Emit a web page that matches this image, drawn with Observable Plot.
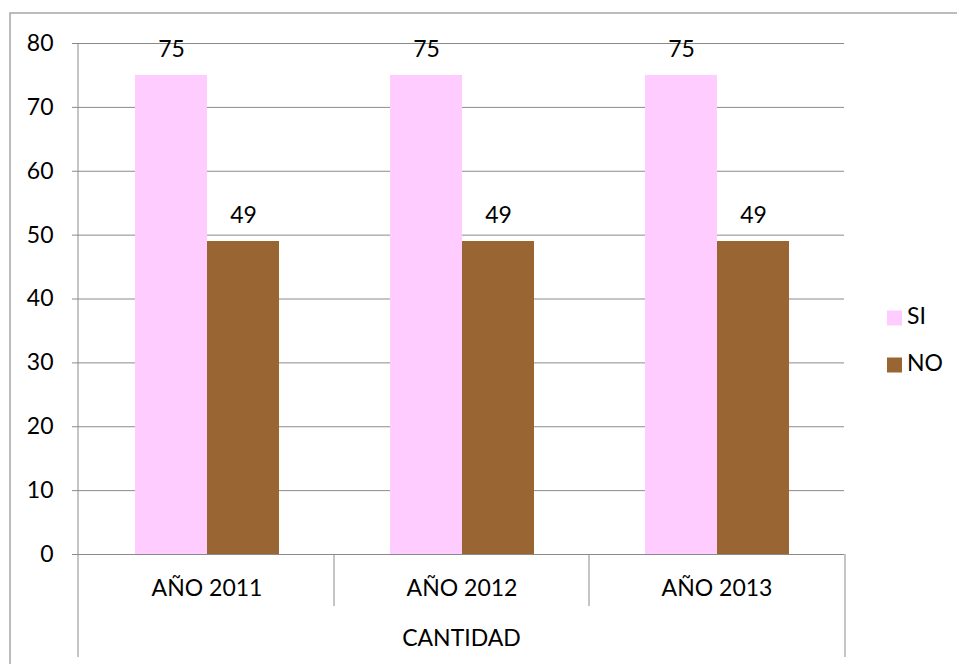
<!DOCTYPE html>
<html><head><meta charset="utf-8">
<script src="https://cdn.jsdelivr.net/npm/d3@7"></script>
<script src="https://cdn.jsdelivr.net/npm/@observablehq/plot@0.6"></script>
<style>body{margin:0;background:#fff} svg{display:block}</style>
</head><body><div id="chart"></div>
<script>
const years = ["AÑO 2011", "AÑO 2012", "AÑO 2013"];
const series = ["SI", "NO"];
const siValues = [75, 75, 75];
const noValues = [49, 49, 49];
const yTicks = [0, 10, 20, 30, 40, 50, 60, 70, 80];
const seriesColors = ["#FFCCFF", "#996633"];
const axisTitle = "CANTIDAD";

const data = years.flatMap((y, i) => [
  {year: y, serie: series[0], value: siValues[i]},
  {year: y, serie: series[1], value: noValues[i]}
]);

const font = "Lato, 'Open Sans', sans-serif";
const gridColor = "#8a8a8a";
const fs = 23;

const chart = Plot.plot({
  width: 957, height: 664,
  marginLeft: 78, marginRight: 112, marginTop: 43, marginBottom: 110,
  style: {fontFamily: font, fontSize: fs + "px", color: "#000", background: "#fff", overflow: "visible"},
  fx: {domain: years, padding: 0, axis: null},
  x: {domain: series, paddingInner: 0, paddingOuter: 0.75, axis: null},
  y: {domain: [0, 80], axis: null},
  color: {domain: series, range: seriesColors},
  marks: [
    Plot.gridY(yTicks, {stroke: gridColor, strokeOpacity: 1}),
    Plot.barY(data, {fx: "year", x: "serie", y: "value", fill: "serie"}),
    Plot.ruleY([0], {stroke: gridColor}),
    Plot.text(data, {fx: "year", x: "serie", y: "value", text: d => String(d.value), dy: -26, fontSize: fs, fill: "#000"}),
    Plot.axisY(yTicks, {tickSize: 7, tickPadding: 19, stroke: gridColor, label: null, fontSize: fs}),
    Plot.axisFx({anchor: "bottom", tickSize: 0, tickPadding: 25, label: null, fontSize: fs})
  ]
});

const svg = d3.select(chart);
const fx = chart.scale("fx");
const y = chart.scale("y");
const color = chart.scale("color");
const x0 = fx.range[0], x1 = fx.range[1];
const yTop = y.apply(80), yZero = y.apply(0);
const g = svg.append("g").attr("stroke", gridColor).attr("stroke-width", 1);
// y axis line and outer category boundaries
g.append("line").attr("x1", x0).attr("x2", x0).attr("y1", yTop).attr("y2", yZero + 103);
g.append("line").attr("x1", x1).attr("x2", x1).attr("y1", yZero).attr("y2", yZero + 103);
years.slice(1).forEach(yr => {
  const xx = fx.apply(yr);
  g.append("line").attr("x1", xx).attr("x2", xx).attr("y1", yZero).attr("y2", yZero + 52);
});
// outer chart border
svg.append("path").attr("d", `M10,${chart.getAttribute("height")}V13H957`).attr("fill", "none").attr("stroke", "#a6a6a6").attr("stroke-width", 1.5);
// axis title
svg.append("text").attr("x", (x0 + x1) / 2).attr("y", yZero + 86).attr("text-anchor", "middle")
  .attr("dominant-baseline", "middle").attr("font-family", font).attr("font-size", fs).attr("fill", "#000").text(axisTitle);
// legend
const lg = svg.append("g").attr("font-family", font).attr("font-size", fs).attr("text-anchor", "start");
series.forEach((s, i) => {
  const cy = 318 + i * 47;
  lg.append("rect").attr("x", 887).attr("y", cy - 7.5).attr("width", 15).attr("height", 15).attr("fill", color.apply(s));
  lg.append("text").attr("x", 907).attr("y", cy).attr("dominant-baseline", "middle").attr("fill", "#000").text(s);
});
document.getElementById("chart").append(chart);
</script>
</body></html>
